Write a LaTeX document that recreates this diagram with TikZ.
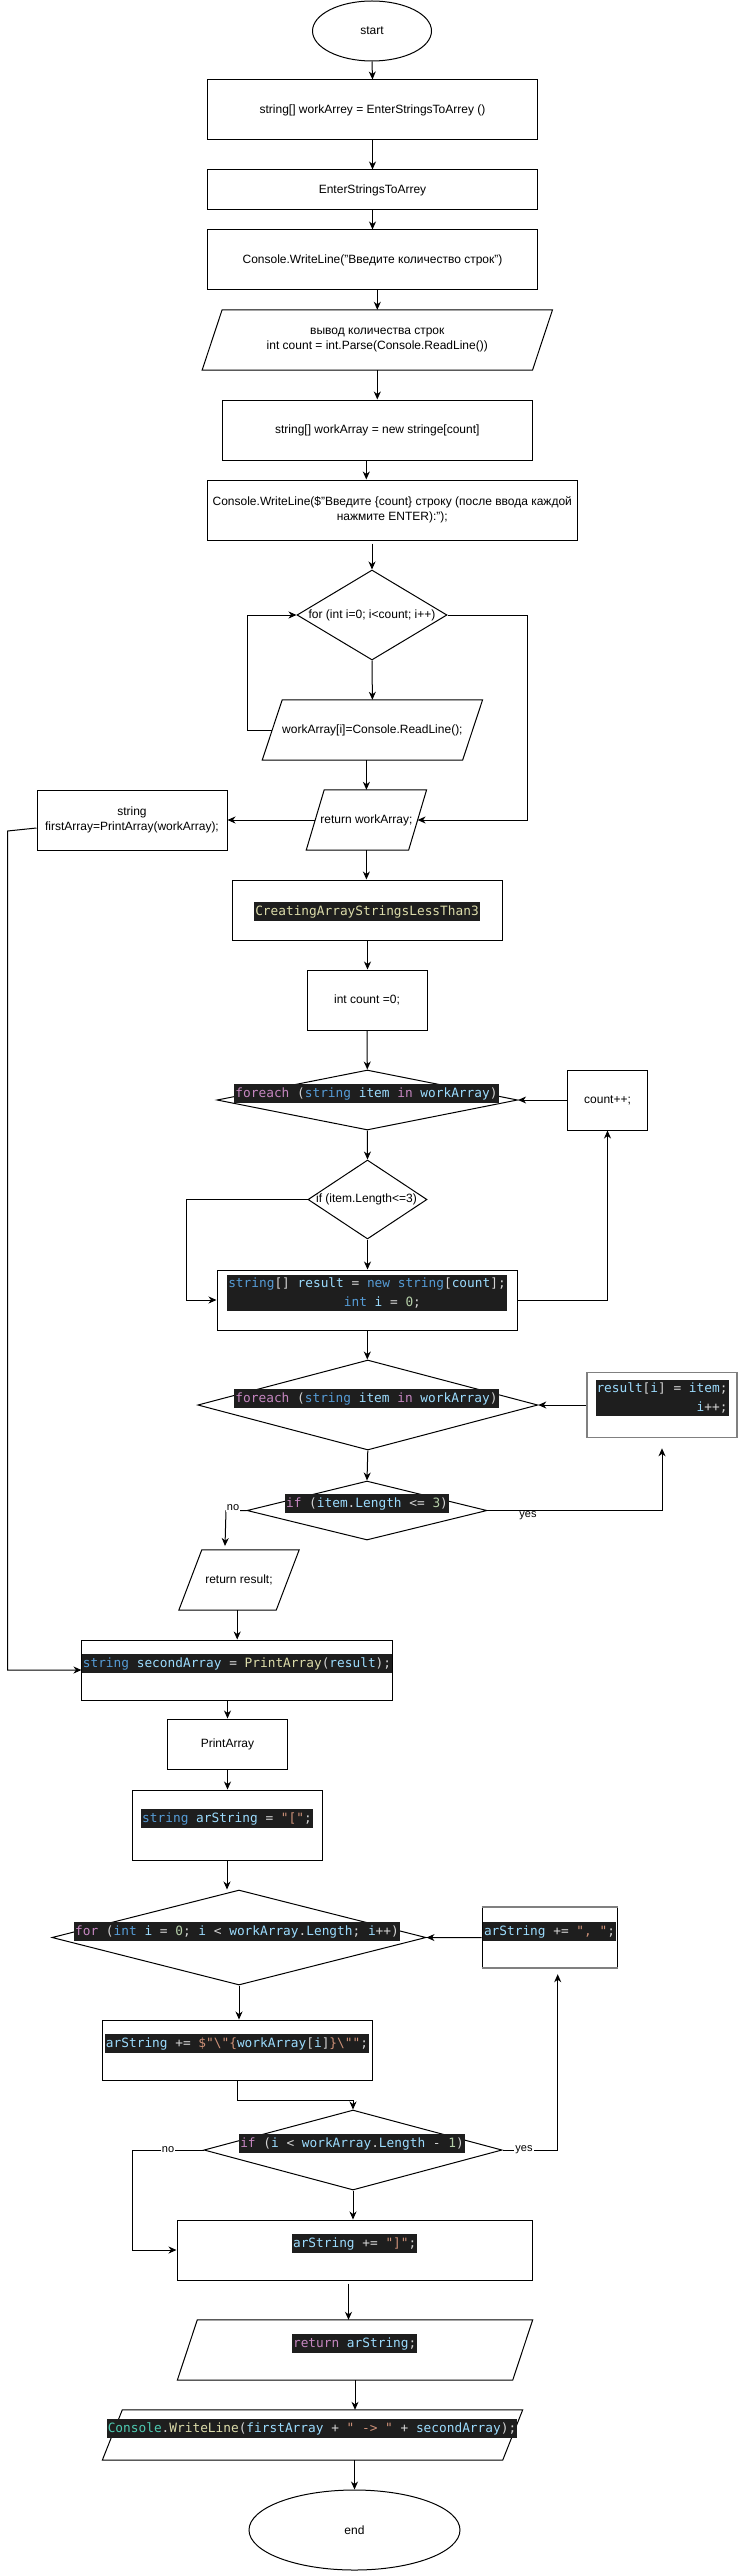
\documentclass[tikz,border=0pt]{standalone}
\usepackage{fontspec}
\setmainfont{Liberation Sans}
\newfontfamily\codefont{DejaVu Sans Mono}
\usetikzlibrary{shapes.geometric,arrows.meta,calc}
\definecolor{codebg}{HTML}{1E1E1E}
\definecolor{cpun}{HTML}{D4D4D4}
\definecolor{ckw}{HTML}{C586C0}
\definecolor{ctype}{HTML}{569CD6}
\definecolor{cvar}{HTML}{9CDCFE}
\definecolor{cfun}{HTML}{DCDCAA}
\definecolor{cstr}{HTML}{CE9178}
\definecolor{cnum}{HTML}{B5CEA8}
\definecolor{ccls}{HTML}{4EC9B0}
\definecolor{gbord}{HTML}{808080}
\newcommand\CKw[1]{\textcolor{ckw}{#1}}
\newcommand\CTy[1]{\textcolor{ctype}{#1}}
\newcommand\CVa[1]{\textcolor{cvar}{#1}}
\newcommand\CFn[1]{\textcolor{cfun}{#1}}
\newcommand\CSt[1]{\textcolor{cstr}{#1}}
\newcommand\CNu[1]{\textcolor{cnum}{#1}}
\newcommand\CCl[1]{\textcolor{ccls}{#1}}
\newcommand\parashape[2]{\draw[shp] ([xshift=#2]#1.north west) -- ([xshift=#2]#1.north east) -- ([xshift=-#2]#1.south east) -- ([xshift=-#2]#1.south west) -- cycle;}
\begin{document}
\begin{tikzpicture}[x=1pt,y=-1pt,
  shp/.style={draw, line width=1pt},
  box/.style={draw, line width=1pt, rectangle, inner sep=2pt, align=center, font=\fontsize{12}{15}\selectfont},
  paranode/.style={rectangle, inner sep=2pt, align=center, font=\fontsize{12}{15}\selectfont},
  term/.style={draw, line width=1pt, ellipse, inner sep=0pt, font=\fontsize{12}{15}\selectfont},
  dia/.style={draw, line width=1pt, diamond, inner sep=0pt},
  txt/.style={inner sep=0pt, align=center, font=\fontsize{12}{15}\selectfont},
  graybox/.style={draw=gbord, line width=1.6pt, rectangle, inner sep=0pt},
  gline/.style={draw=gbord, line width=1.6pt},
  arr/.style={line width=1pt, -{Stealth[length=8pt,width=7pt,inset=2.5pt]}},
  ln/.style={line width=1pt},
  codebase/.style={fill=codebg, text=cpun, inner xsep=1pt, inner ysep=1pt, font=\codefont\fontsize{12.8}{19}\selectfont},
  code/.style={codebase, text height=12.5pt, text depth=4.5pt},
  lab/.style={inner sep=1pt, font=\fontsize{11}{13}\selectfont}
]
\fill[white] (0,0) rectangle (738,2571);
\useasboundingbox (0,0) rectangle (738,2571);

% ---------- nodes ----------
\node[term, minimum width=119pt, minimum height=60pt] (start) at (372,31) {start};
\node[box, minimum width=330pt, minimum height=60pt] (b1) at (372.5,110) {string[] workArrey = EnterStringsToArrey ()};
\node[box, minimum width=330pt, minimum height=40pt] (b2) at (372.5,190) {EnterStringsToArrey};
\node[box, minimum width=330pt, minimum height=60pt] (b3) at (372.5,260) {Console.WriteLine("Введите количество строк")};
\node[paranode, minimum width=330pt, minimum height=60pt] (p1) at (377.3,340) {вывод количества строк\\int count = int.Parse(Console.ReadLine())};
\parashape{p1}{10pt}
\node[box, minimum width=309.4pt, minimum height=60pt] (b4) at (377.3,430) {string[] workArray = new stringe[count]};
\node[box, minimum width=369.5pt, minimum height=60pt] (b5) at (392.3,510) {Console.WriteLine(\$"Введите \{count\} строку (после ввода каждой\\нажмите ENTER):");};
\node[dia, minimum width=150pt, minimum height=90pt] (d1) at (372,615) {};
\node[txt] (td1) at (372,615) {for (int i=0; i<count; i++)};
\node[paranode, minimum width=200pt, minimum height=60pt] (p2) at (372.4,730) {workArray[i]=Console.ReadLine();};
\parashape{p2}{10pt}
\node[paranode, minimum width=102pt, minimum height=60pt] (p3) at (366.4,820) {return workArray;};
\parashape{p3}{9pt}
\node[box, minimum width=190pt, minimum height=60pt] (b6) at (132,820) {string\\firstArray=PrintArray(workArray);};
\node[box, minimum width=270pt, minimum height=60pt] (b7) at (367.5,910) {};
\node[code] (c7) at (367,911) {\CFn{CreatingArrayStringsLessThan3}};
\node[box, minimum width=120pt, minimum height=60pt] (b8) at (367,1000) {int count =0;};
\node[dia, minimum width=300.6pt, minimum height=60pt] (d2) at (367.3,1100) {};
\node[code] (cd2) at (366.5,1093.5) {\CKw{foreach} (\CTy{string} \CVa{item} \CKw{in} \CVa{workArray})};
\node[box, minimum width=80pt, minimum height=60pt] (cpp) at (607.5,1100) {count++;};
\node[dia, minimum width=119pt, minimum height=79pt] (d3) at (367.5,1199.5) {};
\node[txt] (td3) at (366.5,1199.5) {if (item.Length<=3)};
\node[box, minimum width=300.6pt, minimum height=60pt] (b9) at (367.3,1300) {};
\node[codebase, align=center, inner ysep=3pt] (c9) at (367,1293) {\CTy{string}[] \CVa{result} = \CTy{new} \CTy{string}[\CVa{count}];\\\phantom{xxxx}\CTy{int} \CVa{i} = \CNu{0};};
\node[dia, minimum width=340pt, minimum height=90pt] (d4) at (367.8,1405) {};
\node[code] (cd4) at (366.5,1398.5) {\CKw{foreach} (\CTy{string} \CVa{item} \CKw{in} \CVa{workArray})};
\node[graybox, minimum width=150pt, minimum height=65pt] (rbox) at (662,1405) {};
\node[codebase, align=right, inner ysep=3pt] (cr) at (662,1398) {\CVa{result}[\CVa{i}] = \CVa{item};\\\CVa{i}++;};
\node[dia, minimum width=240pt, minimum height=59pt] (d5) at (367,1510.5) {};
\node[code] (cd5) at (367,1503) {\CKw{if} (\CVa{item}.\CVa{Length} <= \CNu{3})};
\node[paranode, minimum width=97pt, minimum height=60pt] (p4) at (239,1580) {return result;};
\parashape{p4}{11.5pt}
\node[box, minimum width=310.5pt, minimum height=60pt] (b10) at (237.2,1670) {};
\node[code] (c10) at (237,1663.5) {\CTy{string} \CVa{secondArray} = \CFn{PrintArray}(\CVa{result});};
\node[box, minimum width=120pt, minimum height=50pt] (b11) at (227.5,1744) {PrintArray};
\node[box, minimum width=190pt, minimum height=70pt] (b12) at (227,1825) {};
\node[code] (c12) at (227,1818.5) {\CTy{string} \CVa{arString} = \CSt{"["};};
\node[dia, minimum width=374pt, minimum height=95pt] (d6) at (239,1937.5) {};
\node[code] (cd6) at (237,1931.5) {\CKw{for} (\CTy{int} \CVa{i} = \CNu{0}; \CVa{i} < \CVa{workArray}.\CVa{Length}; \CVa{i}++)};
\node[box, minimum width=135.4pt, minimum height=60pt] (abox) at (549.7,1937.7) {};
\draw[gline] (abox.north west) -- (abox.north east);
\draw[gline] (abox.south west) -- (abox.south east);
\node[code] (cab) at (549.5,1931.5) {\CVa{arString} += \CSt{", "};};
\node[box, minimum width=269.4pt, minimum height=60pt] (b13) at (237.3,2050) {};
\node[code] (c13) at (237,2043) {\CVa{arString} += \CSt{\$"\textbackslash"\{}\CVa{workArray}[\CVa{i}]\CSt{\}\textbackslash""};};
\node[dia, minimum width=298pt, minimum height=80pt] (d7) at (353,2150) {};
\node[code] (cd7) at (352,2143.5) {\CKw{if} (\CVa{i} < \CVa{workArray}.\CVa{Length} - \CNu{1})};
\node[box, minimum width=355pt, minimum height=60pt] (b14) at (354.5,2250) {};
\node[code] (c14) at (354.7,2243) {\CVa{arString} += \CSt{"]"};};
\node[paranode, minimum width=335pt, minimum height=60pt] (p5) at (355,2350) {};
\parashape{p5}{10pt}
\node[code] (cp5) at (354.7,2343) {\CKw{return} \CVa{arString};};
\node[paranode, minimum width=400pt, minimum height=50pt] (p6) at (312.5,2435) {};
\parashape{p6}{10pt}
\node[code] (cp6) at (312,2428) {\CCl{Console}.\CFn{WriteLine}(\CVa{firstArray} + \CSt{" -> "} + \CVa{secondArray});};
\node[term, minimum width=211pt, minimum height=80pt] (stop) at (354.5,2530) {end};

% ---------- helper coordinates ----------
\coordinate (railtop) at (7.5,831);
\coordinate (no5a) at (226,1510.5);
\coordinate (no5b) at (225,1546);

% ---------- connectors ----------
\draw[arr] (start.south) -- (b1.north);
\draw[arr] (b1.south) -- (b2.north);
\draw[arr] (b2.south) -- (b3.north);
\draw[arr] (p1.north |- b3.south) -- (p1.north);
\draw[arr] (p1.south) -- (b4.north);
\draw[arr] ([xshift=-11pt]b4.south) -- ([xshift=-11pt]b4.south |- b5.north);
\draw[arr] ([yshift=-3pt]d1.north |- b5.south) -- (d1.north);
\draw[arr] (d1.south) -- (p2.north);
\draw[arr] (p2.west) -- ++(-25,0) |- (d1.west);
\draw[arr] (d1.east) -- ++(80,0) |- (p3.east);
\draw[arr] (p3.north |- p2.south) -- (p3.north);
\draw[arr] (p3.west) -- (b6.east);
\draw[arr] ([yshift=-8pt]b6.west) -- (railtop) |- (b10.west);
\draw[arr] (p3.south) -- (p3.south |- b7.north);
\draw[arr] (b7.south) -- (b7.south |- b8.north);
\draw[arr] (b8.south) -- (d2.north);
\draw[arr] (cpp.west) -- (d2.east);
\draw[arr] (d2.south) -- (d3.north);
\draw[arr] (d3.west) -- ++(-121,0) |- (b9.west);
\draw[arr] (d3.south) -- (d3.south |- b9.north);
\draw[arr] (b9.east) -| (cpp.south);
\draw[arr] (b9.south) -- (b9.south |- d4.north);
\draw[arr] (rbox.west) -- (d4.east);
\draw[arr] (d4.south) -- (d5.north);
\draw[arr] (d5.east) -| ([yshift=-10pt]rbox.south);
\draw[arr] (d5.west) -- (no5a) -- (no5b);
\draw[arr] (b10.north |- p4.south) -- (b10.north);
\draw[arr] (b11.north |- b10.south) -- (b11.north);
\draw[arr] (b11.south) -- (b11.south |- b12.north);
\draw[arr] (b12.south) -- (b12.south |- d6.north);
\draw[arr] (abox.west) -- (d6.east);
\draw[arr] (d6.south) -- (d6.south |- b13.north);
\draw[arr] (b13.south) -- ++(0,20) -| (d7.north);
\draw[arr] (d7.east) -| ($(abox.south)+(8,6)$);
\draw[arr] (d7.west) -- ++(-71,0) |- (b14.west);
\draw[arr] (d7.south) -- (d7.south |- b14.north);
\draw[arr] ([xshift=-6pt,yshift=-3pt]b14.south) -- ([xshift=-6pt]b14.south |- p5.north);
\draw[arr] (p5.south) -- (p5.south |- p6.north);
\draw[arr] (stop.north |- p6.south) -- (stop.north);

% ---------- edge labels ----------
\node[lab] (yes1) at (528,1516) {yes};
\node[lab, fill=white] (no1) at (233,1508) {no};
\node[lab, fill=white] (no2) at (168,2150) {no};
\node[lab, fill=white] (yes2) at (524,2150) {yes};
\end{tikzpicture}
\end{document}
